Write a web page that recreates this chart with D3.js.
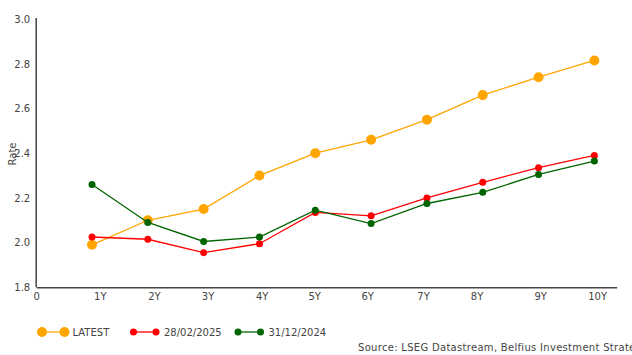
<!DOCTYPE html>
<html>
<head>
<meta charset="utf-8">
<script src="https://cdn.jsdelivr.net/npm/d3@7"></script>
<style>
  html, body { margin: 0; padding: 0; background: #fff; }
  svg { display: block; font-family: "DejaVu Sans", sans-serif; }
</style>
</head>
<body>
<svg id="chart" width="632" height="355"></svg>
<script>
// ---- data ----
const maturities = [1, 2, 3, 4, 5, 6, 7, 8, 9, 10];
const latest   = [1.99, 2.10, 2.15, 2.30, 2.40, 2.46, 2.55, 2.66, 2.74, 2.815];
const feb2025  = [2.025, 2.015, 1.955, 1.995, 2.135, 2.12, 2.20, 2.27, 2.335, 2.39];
const dec2024  = [2.26, 2.09, 2.005, 2.025, 2.145, 2.085, 2.175, 2.225, 2.305, 2.365];
const xTickValues = [0, 1.14, 2.11, 3.07, 4.04, 4.98, 5.93, 6.93, 7.89, 9.03, 10.05];
const xTickLabels = ["0", "1Y", "2Y", "3Y", "4Y", "5Y", "6Y", "7Y", "8Y", "9Y", "10Y"];
const yTicks = [1.8, 2.0, 2.2, 2.4, 2.6, 2.8, 3.0];
const seriesNames = ["LATEST", "28/02/2025", "31/12/2024"];
const seriesColors = ["#FFA500", "#FF0000", "#006400"];
const seriesRadius = [5, 3.5, 3.5];
const seriesValues = [latest, feb2025, dec2024];

// ---- chart ----
const svg = d3.select("#chart");
const x = d3.scaleLinear().domain([0, 10.4]).range([36.2, 616.7]);
const y = d3.scaleLinear().domain([1.8, 3.0]).range([287.3, 19.1]);

const textColor = "#444";

// y axis
const yAxis = svg.append("g").attr("transform", `translate(${x(0)},0)`)
  .call(d3.axisLeft(y).tickValues(yTicks).tickFormat(d3.format(".1f")).tickSize(0).tickPadding(6));
yAxis.select(".domain").attr("stroke", "#444").attr("stroke-width", 1.5).attr("d", `M0,${y(1.8)}V18`);
yAxis.selectAll("text").attr("fill", textColor).attr("font-size", 10).attr("font-family", "DejaVu Sans");

// x axis
const xAxis = svg.append("g").attr("transform", `translate(0,${y(1.8)})`)
  .call(d3.axisBottom(x).tickValues(xTickValues).tickFormat((d, i) => xTickLabels[i]).tickSize(0).tickPadding(6));
xAxis.select(".domain").attr("stroke", "#444").attr("stroke-width", 1.5);
xAxis.selectAll("text").attr("fill", textColor).attr("font-size", 10).attr("font-family", "DejaVu Sans");

// y label
svg.append("text")
  .attr("transform", `translate(16,154) rotate(-90)`)
  .attr("text-anchor", "middle")
  .attr("font-size", 10)
  .attr("fill", textColor)
  .text("Rate");

// series
const line = d3.line().x((d, i) => x(maturities[i])).y(d => y(d));
seriesValues.forEach((vals, s) => {
  const g = svg.append("g");
  g.append("path").datum(vals)
    .attr("d", line)
    .attr("fill", "none")
    .attr("stroke", seriesColors[s])
    .attr("stroke-width", 1.3);
  g.selectAll("circle").data(vals).join("circle")
    .attr("cx", (d, i) => x(maturities[i]))
    .attr("cy", d => y(d))
    .attr("r", seriesRadius[s])
    .attr("fill", seriesColors[s]);
});

// legend
const legendX = [42, 133.5, 238];
const legend = svg.append("g").attr("transform", "translate(0,332)");
seriesNames.forEach((name, s) => {
  const g = legend.append("g").attr("transform", `translate(${legendX[s]},0)`);
  g.append("line").attr("x1", 0).attr("x2", 22.5).attr("y1", 0).attr("y2", 0)
    .attr("stroke", seriesColors[s]).attr("stroke-width", 1.3);
  g.append("circle").attr("cx", 0).attr("cy", 0).attr("r", seriesRadius[s]).attr("fill", seriesColors[s]);
  g.append("circle").attr("cx", 22.5).attr("cy", 0).attr("r", seriesRadius[s]).attr("fill", seriesColors[s]);
  g.append("text").attr("x", 30.5).attr("y", 0).attr("dy", "0.35em")
    .attr("font-size", 10).attr("fill", textColor).text(name);
});

// source
svg.append("text")
  .attr("x", 358).attr("y", 351)
  .attr("font-size", 10).attr("letter-spacing", 0.3).attr("fill", textColor)
  .text("Source: LSEG Datastream, Belfius Investment Strategy");
</script>
</body>
</html>
